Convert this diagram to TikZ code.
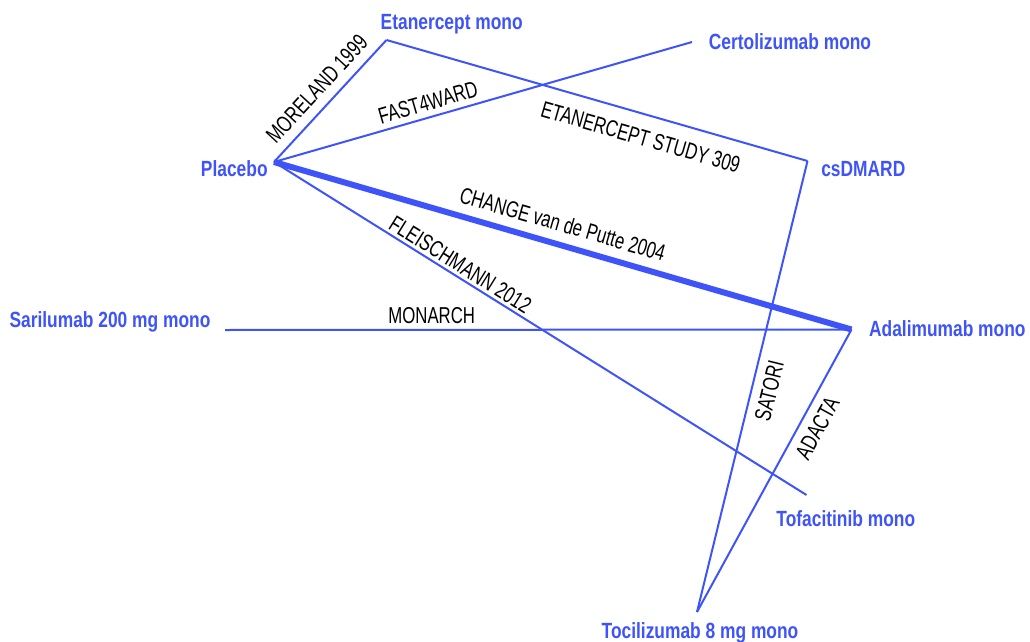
\documentclass[tikz,border=0pt]{standalone}
\usepackage{fontspec}
\setmainfont{Liberation Sans}
\newfontfamily\armfont{Liberation Sans}[FakeStretch=0.79]
\newfontfamily\trialfont{Liberation Sans}[FakeStretch=0.73]
\usetikzlibrary{positioning}
\definecolor{netblue}{RGB}{62,84,248}
\tikzset{
    arm/.style={text=netblue, inner sep=0pt, anchor=base,
        font=\armfont\bfseries\fontsize{22}{26}\selectfont},
    trial/.style={sloped, inner sep=0pt,
        font=\trialfont\fontsize{23}{27}\selectfont},
    link/.style={draw=netblue, line width=2pt, line join=round},
    biglink/.style={draw=netblue, line width=6pt, line join=round}
}
\begin{document}
\begin{tikzpicture}[x=1pt, y=-1pt]
    \useasboundingbox (0,0) rectangle (1030,642);

    % treatment points
    \coordinate (pla) at (274,162);
    \coordinate (eta) at (386.5,40);
    \coordinate (cer) at (692,42);
    \coordinate (csd) at (807.5,161);
    \coordinate (ada) at (851.5,329.5);
    \coordinate (sar) at (225,330);
    \coordinate (tof) at (806.5,495);
    \coordinate (toc) at (697,612);

    % treatment labels
    \foreach \pt/\lx/\ly/\txt in {
        pla/234.3/176/Placebo,
        eta/451.7/29.3/Etanercept mono,
        cer/790/49/Certolizumab mono,
        csd/863.3/176.5/csDMARD,
        ada/947.3/336/Adalimumab mono,
        sar/110/327/Sarilumab 200 mg mono,
        tof/845.8/526.5/Tofacitinib mono,
        toc/700/638/Tocilizumab 8 mg mono}{

        \node[arm] (\pt-lab) at (\lx,\ly) {\txt};
    }

    % comparisons
    \draw[biglink] (pla) -- (ada)
        node[trial, pos=0.49, above=9.5pt] (change) {CHANGE van de Putte 2004};

    \foreach \a/\b/\p/\side/\gap/\txt/\nm in {
        pla/eta/0.50/above/9/MORELAND 1999/moreland,
        pla/cer/0.378/above/5.5/FAST4WARD/fast,
        eta/csd/0.619/below/14/ETANERCEPT STUDY 309/study,
        pla/tof/0.338/above/2.8/FLEISCHMANN 2012/fleisch,
        sar/ada/0.33/above/5.5/MONARCH/monarch,
        toc/csd/0.499/below/8.5/SATORI/satori,
        toc/ada/0.68/below/8.3/ADACTA/adacta}{

        \draw[link] (\a) -- (\b)
            node[trial, pos=\p, \side=\gap pt] (\nm) {\txt};
    }
\end{tikzpicture}
\end{document}
